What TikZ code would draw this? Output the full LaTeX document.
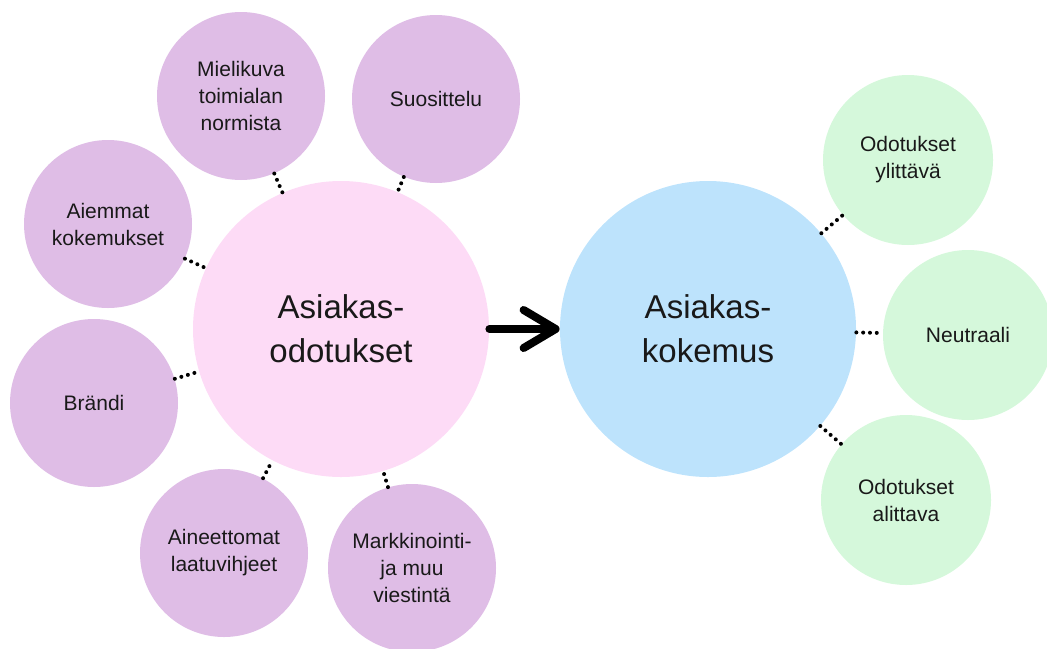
\documentclass[tikz,border=0pt]{standalone}
\usepackage{fontspec}
\setmainfont{Liberation Sans}
\usepackage{xcolor}
\usetikzlibrary{arrows.meta}

\definecolor{causefill}{HTML}{DFBDE6}
\definecolor{expectfill}{HTML}{FDDBF6}
\definecolor{experfill}{HTML}{BDE3FC}
\definecolor{resultfill}{HTML}{D5F8DB}

\begin{document}
\begin{tikzpicture}[
    x=0.5pt, y=-0.5pt,
    every bubble/.style={circle, inner sep=0pt, align=center, text=black!90},
    main bubble/.style={every bubble, minimum size=148pt, font=\fontsize{16.5}{22}\selectfont},
    cause bubble/.style={every bubble, fill=causefill, minimum size=84pt, font=\fontsize{10.5}{13.5}\selectfont},
    result bubble/.style={every bubble, fill=resultfill, minimum size=85pt, font=\fontsize{10.5}{13.5}\selectfont},
    dotted link/.style={line width=2pt, line cap=round, dash pattern=on 0pt off 3.4pt},
    big arrow/.style={line width=4pt, line cap=round, -{Straight Barb[length=16pt,width=19pt,round]}}
]
    \useasboundingbox (0,0) rectangle (1047,648);

    % the two main circles
    \node[main bubble, fill=expectfill] (odotukset) at (341,329) {Asiakas-\\odotukset};
    \node[main bubble, fill=experfill] (kokemus) at (708,329) {Asiakas-\\kokemus};

    % what shapes the expectations
    \foreach \n/\p/\t in {mieli/{241,96}/{Mielikuva\\toimialan\\normista},
                          suos/{436,99}/{Suosittelu},
                          aiemmat/{108,224}/{Aiemmat\\kokemukset},
                          brandi/{94,403}/{Brändi},
                          aineet/{224,553}/{Aineettomat\\laatuvihjeet},
                          markk/{412,568}/{Markkinointi-\\ja muu\\viestintä}}
    {
      \node[cause bubble] (\n) at (\p) {\t};
      \draw[dotted link] (\n) -- (odotukset);
    }

    % possible outcomes
    \foreach \n/\p/\t in {ylit/{908,160}/{Odotukset\\ylittävä},
                          neutr/{968,335}/{Neutraali},
                          alit/{906,500}/{Odotukset\\alittava}}
    {
      \node[result bubble] (\n) at (\p) {\t};
      \draw[dotted link] (kokemus) -- (\n);
    }

    \draw[big arrow] (odotukset.east) -- (kokemus.west);
\end{tikzpicture}
\end{document}
